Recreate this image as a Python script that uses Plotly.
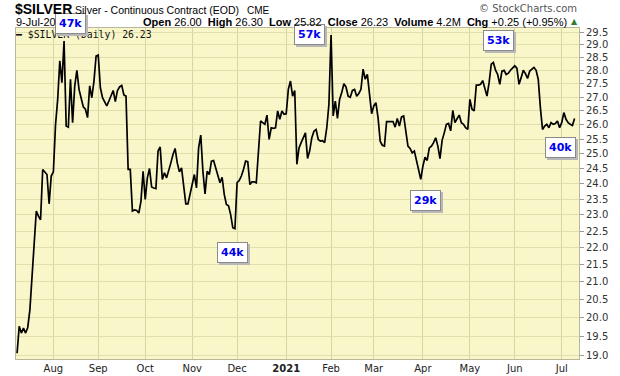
import pandas as pd
import numpy as np
import plotly.graph_objects as go

# ---------------- data ----------------
jul20 = [19.05, 19.76, 19.58, 19.71, 19.58, 19.73, 20.21, 21.20, 22.19, 23.12,
         22.96, 22.85, 24.47, 24.39, 24.30, 23.35, 24.25]
aug20 = [24.39, 26.00, 26.90, 28.37, 27.54, 29.15, 25.96, 25.92, 27.67, 26.08,
         27.42, 28.01, 27.29, 27.00, 26.65, 26.56, 26.26, 27.42, 26.98, 27.60, 28.56]
sep20 = [28.60, 27.35, 26.98, 26.80, 26.68, 26.86, 27.04, 27.25, 26.84, 27.25,
         27.38, 27.44, 27.08, 27.04, 24.47, 24.47, 23.12, 23.16, 23.14, 23.06,
         23.43, 24.41]
oct20 = [23.49, 24.19, 24.50, 23.89, 23.86, 23.84, 25.09, 25.23, 24.14, 24.36,
         24.19, 24.41, 24.69, 24.97, 25.18, 24.69, 24.39, 24.52, 23.86, 23.35,
         23.35, 23.70]
nov20 = [24.03, 24.30, 23.86, 25.20, 25.64, 24.41, 23.67, 24.41, 24.30, 24.75,
         24.77, 24.52, 24.30, 24.03, 24.21, 23.65, 23.33, 23.29, 23.01, 22.60, 22.57]
dec20 = [24.03, 24.10, 24.25, 24.47, 24.75, 24.73, 23.97, 24.06, 24.06, 24.03,
         24.97, 26.14, 26.08, 26.02, 26.35, 25.49, 25.90, 25.88, 25.90, 26.50,
         26.20, 26.50, 26.38]
jan21 = [26.40, 27.29, 27.60, 27.04, 27.25, 24.64, 25.20, 25.38, 25.55, 25.72,
         24.84, 25.10, 25.55, 25.78, 25.84, 25.49, 25.43, 25.45, 25.38, 25.90, 26.74]
feb21 = [29.39, 26.32, 26.86, 26.23, 26.92, 27.17, 27.50, 27.38, 27.04, 27.00,
         27.25, 27.29, 27.04, 27.14, 27.29, 28.05, 27.67, 27.85, 26.98, 26.40]
mar21 = [26.68, 26.80, 26.26, 25.43, 25.29, 25.26, 26.12, 26.12, 26.14, 26.12,
         25.92, 26.23, 25.96, 26.29, 26.32, 25.84, 25.26, 25.18, 25.03, 25.09,
         24.75, 24.41, 24.14]
apr21 = [24.58, 24.88, 24.77, 25.20, 25.26, 25.38, 25.55, 25.26, 24.83, 25.46,
         25.72, 26.02, 26.05, 25.79, 26.52, 26.08, 26.22, 26.35, 26.08, 26.02,
         25.90, 25.84]
may21 = [26.92, 26.56, 26.50, 27.45, 27.45, 27.48, 27.62, 27.29, 27.04, 27.54,
         28.24, 28.31, 28.01, 27.85, 27.48, 27.98, 28.01, 27.85, 27.90, 28.01, 28.08]
jun21 = [28.18, 28.09, 27.48, 27.73, 28.01, 27.88, 27.70, 27.98, 28.05, 28.12,
         28.01, 27.67, 26.62, 25.84, 25.96, 26.02, 25.90, 26.08, 26.02, 26.05,
         26.14, 25.90]
jul21 = [26.08, 26.44, 26.20, 26.08, 26.02, 25.98, 26.23]

prices = (jul20 + aug20 + sep20 + oct20 + nov20 + dec20 + jan21 + feb21 +
          mar21 + apr21 + may21 + jun21 + jul21)
dates = pd.bdate_range("2020-07-09", "2021-07-09")
assert len(dates) == len(prices)

y_tick_labels = ["19.0", "19.5", "20.0", "20.5", "21.0", "21.5", "22.0", "22.5",
                 "23.0", "23.5", "24.0", "24.5", "25.0", "25.5", "26.0", "26.5",
                 "27.0", "27.5", "28.0", "28.5", "29.0", "29.5"]
month_labels = ["Aug", "Sep", "Oct", "Nov", "Dec", "2021", "Feb", "Mar", "Apr",
                "May", "Jun", "Jul"]

vol_labels = ["47k", "44k", "57k", "29k", "53k", "40k"]
vol_dates = ["2020-08-10", "2020-11-30", "2021-02-01", "2021-03-31", "2021-05-18", "2021-07-09"]

# ---------------- figure ----------------
W, H = 620, 376
L, R, T, B = 16, 579, 28, 359
X_RANGE = ["2020-07-08 12:00", "2021-07-13 02:00"]
Y_RANGE = [18.90, 29.67]

def px(x):
    return (x - L) / (R - L)

def py(y):
    return (B - y) / (B - T)

s = pd.Series(prices, index=dates)
first_of_month = s.groupby([s.index.year, s.index.month]).head(1).index[1:]
tick_text = [f"<b>{m}</b>" if m == "2021" else m for m in month_labels]

fig = go.Figure()

# legend-like label drawn beneath the price line (a few pixels below the top edge)
lbl_y = Y_RANGE[1] * np.exp(-3.0 / 734.0)
fig.add_trace(go.Scatter(
    x=[pd.Timestamp(X_RANGE[0])], y=[lbl_y], mode="text",
    text=["<b>━</b> $SILVER (Daily) 26.23"], textposition="bottom right",
    textfont=dict(family="DejaVu Sans Mono", size=9.8, color="#111"),
    hoverinfo="skip", cliponaxis=False, showlegend=False))

fig.add_trace(go.Scatter(
    x=dates, y=prices, mode="lines",
    line=dict(color="#000000", width=1.7),
    showlegend=False, hoverinfo="x+y"))

fig.update_layout(
    width=W, height=H,
    margin=dict(l=L, r=W - R, t=T, b=H - B, autoexpand=False),
    paper_bgcolor="#ffffff",
    plot_bgcolor="#f9f7c9",
    showlegend=False,
    xaxis=dict(
        range=X_RANGE, automargin=False,
        rangebreaks=[dict(bounds=["sat", "mon"])],
        tickmode="array", tickvals=list(first_of_month), ticktext=tick_text,
        showgrid=True, gridcolor="#d3d8a0", gridwidth=1,
        zeroline=False, showline=True, linecolor="#b9b89a", mirror=True,
        ticks="", tickfont=dict(family="DejaVu Sans", size=10, color="#222"),
    ),
    yaxis=dict(
        type="log", automargin=False,
        range=[np.log10(Y_RANGE[0]), np.log10(Y_RANGE[1])],
        side="right",
        tickmode="array", tickvals=[float(v) for v in y_tick_labels], ticktext=y_tick_labels,
        showgrid=True, gridcolor="#e1e0ad", gridwidth=1,
        zeroline=False, showline=True, linecolor="#b9b89a", mirror=True,
        ticks="outside", ticklen=4, tickcolor="#999999",
        tickfont=dict(family="DejaVu Sans", size=10, color="#333"),
    ),
)

# volume callout boxes
offsets = [(6, -17), (-2, 24), (-22, 0), (5, 21), (5, -22), (-14, 29)]
for lab, d, (ax, ay) in zip(vol_labels, vol_dates, offsets):
    val = s.loc[pd.Timestamp(d)]
    common = dict(x=pd.Timestamp(d), y=np.log10(val), xref="x", yref="y",
                  showarrow=True, arrowcolor="rgba(0,0,0,0)", arrowwidth=0.1,
                  axref="pixel", ayref="pixel", borderpad=3, borderwidth=1)
    fig.add_annotation(text=f"<b>{lab}</b>", ax=ax + 2, ay=ay + 2,
                       bgcolor="#b8b8b8", bordercolor="#b8b8b8",
                       font=dict(family="DejaVu Sans", size=11, color="#b8b8b8"), **common)
    fig.add_annotation(text=f"<b>{lab}</b>", ax=ax, ay=ay,
                       bgcolor="#ffffff", bordercolor="#8a8a8a",
                       font=dict(family="DejaVu Sans", size=11, color="#0000ee"), **common)

# header texts
hdr = dict(xref="paper", yref="paper", showarrow=False, yanchor="middle")
fig.add_annotation(x=px(13), y=py(9), xanchor="left", text="<b>$SILVER</b>",
                   font=dict(family="Liberation Sans", size=14, color="#000"), **hdr)
fig.add_annotation(x=px(73), y=py(10), xanchor="left", text="Silver - Continuous Contract (EOD)",
                   font=dict(family="Liberation Sans", size=10.5, color="#000"), **hdr)
fig.add_annotation(x=px(245), y=py(10), xanchor="left", text="CME",
                   font=dict(family="Liberation Sans", size=10, color="#000"), **hdr)
fig.add_annotation(x=px(14), y=py(22), xanchor="left", text="9-Jul-20",
                   font=dict(family="Liberation Sans", size=11, color="#000"), **hdr)
fig.add_annotation(x=px(569), y=py(22), xanchor="right",
                   text="<b>Open</b> 26.00  <b>High</b> 26.30  <b>Low</b> 25.82  <b>Close</b> 26.23  "
                        "<b>Volume</b> 4.2M  <b>Chg</b> +0.25 (+0.95%)",
                   font=dict(family="Liberation Sans", size=11, color="#000"), **hdr)
fig.add_annotation(x=px(580), y=py(22), xanchor="right", text="▲",
                   font=dict(family="DejaVu Sans", size=8, color="#2e7d32"), **hdr)
fig.add_annotation(x=px(579), y=py(9), xanchor="right", text="© StockCharts.com",
                   font=dict(family="DejaVu Sans", size=10, color="#555"), **hdr)

fig.write_html("out.html", config={"displayModeBar": False},
               post_script="document.body.style.margin='0';")
